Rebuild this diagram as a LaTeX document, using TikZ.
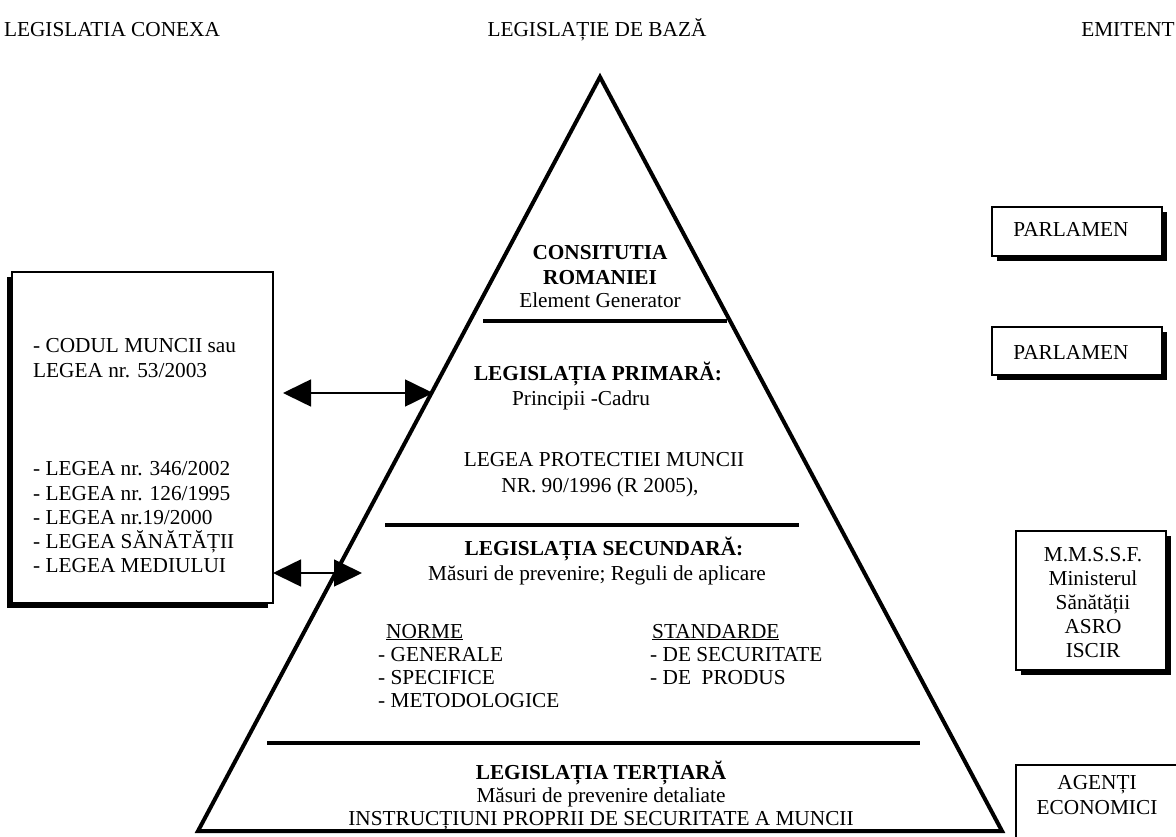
\documentclass[tikz,border=0pt]{standalone}
\usepackage{fontspec}
\setmainfont{Liberation Serif}
\usetikzlibrary{arrows.meta,shadows}
\begin{document}
\begin{tikzpicture}[x=1pt,y=-1pt,
  txt/.style={inner sep=0pt, font=\fontsize{21.3}{25}\selectfont, anchor=base},
  txtl/.style={txt, anchor=base west},
  bld/.style={txt, font=\fontsize{21.3}{25}\selectfont\bfseries},
  edge4/.style={line width=4pt},
  rbox/.style={draw, line width=2pt, fill=white, inner sep=0pt,
    drop shadow={shadow xshift=5pt, shadow yshift=-5pt, fill=black, opacity=1}},
  lbox/.style={draw, line width=2pt, fill=white, inner sep=0pt,
    drop shadow={shadow xshift=-5pt, shadow yshift=-5pt, fill=black, opacity=1}},
  dbl/.style={line width=1.6pt, {Triangle[length=28pt,width=27pt]}-{Triangle[length=28pt,width=27pt]}}
]
\clip (0,0) rectangle (1176,837);
\fill[white] (0,0) rectangle (1176,837);

% headers
\node[txt] (h1) at (112,37) {LEGISLATIA CONEXA};
\node[txt] (h2) at (597,37) {LEGISLAȚIE DE BAZĂ};
\node[txt] (h3) at (1128,37) {EMITENT};

% pyramid
\coordinate (apex) at (600,77);
\coordinate (bl) at (198,831);
\coordinate (br) at (1002,831);
\draw[edge4, line join=miter] (apex) -- (bl) -- (br) -- cycle;
\coordinate (l1a) at (483,321); \coordinate (l1b) at (727,321);
\coordinate (l2a) at (385,525); \coordinate (l2b) at (799,525);
\coordinate (l3a) at (267,743); \coordinate (l3b) at (920,743);
\draw[edge4] (l1a) -- (l1b);
\draw[edge4] (l2a) -- (l2b);
\draw[edge4] (l3a) -- (l3b);

% level 0
\node[bld] (c1) at (600,260) {CONSITUTIA};
\node[bld] (c2) at (600,284) {ROMANIEI};
\node[txt] (c3) at (600,308) {Element Generator};

% level 1
\node[bld] (p1) at (598,380) {LEGISLAȚIA PRIMARĂ:};
\node[txt] (p2) at (581,405) {Principii -Cadru};
\node[txt] (p3) at (604,466) {LEGEA PROTECTIEI MUNCII};
\node[txt] (p4) at (600,492) {NR. 90/1996 (R 2005),};

% level 2
\node[bld] (s1) at (604,555) {LEGISLAȚIA SECUNDARĂ:};
\node[txt] (s2) at (597,580) {Măsuri de prevenire; Reguli de aplicare};
\node[txtl] (n0) at (386,638) {\underline{NORME}};
\node[txtl] (n1) at (378,661) {- GENERALE};
\node[txtl] (n2) at (378,684) {- SPECIFICE};
\node[txtl] (n3) at (378,707) {- METODOLOGICE};
\node[txtl] (st0) at (652,638) {\underline{STANDARDE}};
\node[txtl] (st1) at (650,661) {- DE SECURITATE};
\node[txtl] (st2) at (650,684) {- DE\ \ PRODUS};

% level 3
\node[bld] (t1) at (601,779) {LEGISLAȚIA TERȚIARĂ};
\node[txt] (t2) at (601,802) {Măsuri de prevenire detaliate};
\node[txt] (t3) at (601,825) {INSTRUCȚIUNI PROPRII DE SECURITATE A MUNCII};

% left box
\node[lbox, minimum width=261pt, minimum height=331pt] (conexa) at (142.5,437.5) {};
\node[txtl] (k1) at (33,352) {- CODUL MUNCII sau};
\node[txtl] (k2) at (33,377) {LEGEA nr. 53/2003};
\node[txtl] (k3) at (33,475) {- LEGEA nr. 346/2002};
\node[txtl] (k4) at (33,500) {- LEGEA nr. 126/1995};
\node[txtl] (k5) at (33,524) {- LEGEA nr.19/2000};
\node[txtl] (k6) at (33,548) {- LEGEA SĂNĂTĂȚII};
\node[txtl] (k7) at (33,572) {- LEGEA MEDIULUI};

% arrows
\coordinate (a1s) at (283,393); \coordinate (a1e) at (433,393);
\coordinate (a2s) at (273,573); \coordinate (a2e) at (362,573);
\draw[dbl] (a1s) -- (a1e);
\draw[dbl] (a2s) -- (a2e);

% right boxes
\node[rbox, minimum width=170pt, minimum height=49pt] (e1) at (1077,231.5) {};
\node[txt] (e1t) at (1071,237) {PARLAMEN};
\node[rbox, minimum width=170pt, minimum height=48pt] (e2) at (1077,351) {};
\node[txt] (e2t) at (1071,359) {PARLAMEN};
\node[rbox, minimum width=150pt, minimum height=139pt] (e3) at (1091,600.5) {};
\node[txt] (e3a) at (1093,561) {M.M.S.S.F.};
\node[txt] (e3b) at (1093,585) {Ministerul};
\node[txt] (e3c) at (1093,609) {Sănătății};
\node[txt] (e3d) at (1093,633) {ASRO};
\node[txt] (e3e) at (1093,657) {ISCIR};
\node[rbox, minimum width=164pt, minimum height=90pt] (e4) at (1098,810) {};
\node[txt] (e4a) at (1097,789) {AGENȚI};
\node[txt] (e4b) at (1097,814) {ECONOMICI};
\end{tikzpicture}
\end{document}
